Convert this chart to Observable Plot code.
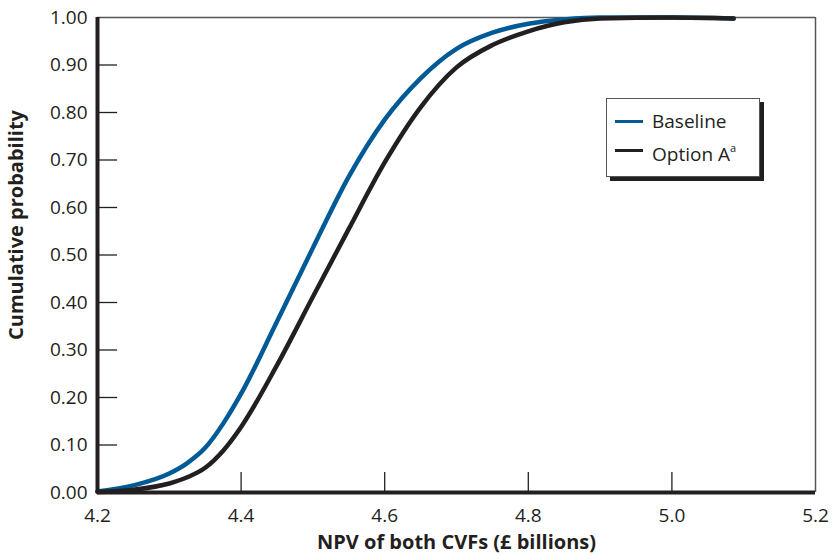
<!DOCTYPE html>
<html>
<head>
<meta charset="utf-8">
<script src="https://cdn.jsdelivr.net/npm/d3@7"></script>
<script src="https://cdn.jsdelivr.net/npm/@observablehq/plot@0.6"></script>
<style>
  body { margin: 0; background: #fff; font-family: "Open Sans", sans-serif; color: #231f20; }
  #wrap { position: relative; width: 833px; height: 560px; }
  .legend { position: absolute; left: 606px; top: 98px; width: 154px; height: 79px; box-sizing: border-box;
            border: 1.5px solid #555; background: #fff; box-shadow: 4px 4px 0 #231f20; }
  .legend .sw { position: absolute; left: 8px; width: 28px; height: 3px; }
  .legend .lab { position: absolute; left: 45px; font-size: 19px; line-height: 24px; white-space: nowrap; }
  .legend sup { font-size: 11px; position: relative; top: -2px; }
</style>
</head>
<body>
<div id="wrap"></div>
<script>
// ---- data ----
const xTicks = [4.2, 4.4, 4.6, 4.8, 5.0, 5.2];
const yTicks = [0, 0.1, 0.2, 0.3, 0.4, 0.5, 0.6, 0.7, 0.8, 0.9, 1.0];
const seriesNames = ["Baseline", "Option A"];
const seriesColors = ["#005a96", "#231f20"];

const baselineX = [4.20, 4.25, 4.30, 4.325, 4.35, 4.375, 4.40, 4.45, 4.50, 4.55, 4.60, 4.65, 4.70, 4.75, 4.80, 4.85, 4.90, 5.00, 5.086];
const baselineY = [0.002, 0.015, 0.040, 0.062, 0.094, 0.145, 0.208, 0.360, 0.515, 0.665, 0.785, 0.872, 0.934, 0.968, 0.987, 0.996, 1.000, 1.000, 0.998];

const optionX = [4.20, 4.25, 4.30, 4.325, 4.35, 4.375, 4.40, 4.45, 4.50, 4.55, 4.60, 4.65, 4.70, 4.75, 4.80, 4.85, 4.90, 5.00, 5.086];
const optionY = [0.001, 0.006, 0.019, 0.032, 0.052, 0.088, 0.138, 0.268, 0.412, 0.555, 0.695, 0.811, 0.895, 0.942, 0.971, 0.990, 0.998, 1.000, 0.998];

const baseline = baselineX.map((x, i) => ({x, y: baselineY[i]}));
const optionA = optionX.map((x, i) => ({x, y: optionY[i]}));

const ink = "#231f20";

const chart = Plot.plot({
  width: 833,
  height: 560,
  marginLeft: 97,
  marginRight: 18,
  marginTop: 17,
  marginBottom: 68,
  style: { fontFamily: "'Open Sans', sans-serif", fontSize: "19px", color: ink, background: "#fff", overflow: "visible" },
  x: { domain: [4.2, 5.2] },
  y: { domain: [0, 1] },
  marks: [
    // thin top/right frame
    Plot.ruleY([1], { stroke: "#555", strokeWidth: 1.5 }),
    Plot.ruleX([5.2], { stroke: "#555", strokeWidth: 1.5 }),
    // inner ticks
    Plot.ruleY(yTicks.filter(d => d > 0 && d < 1), { x1: 4.2, x2: 4.228, stroke: ink, strokeWidth: 1.3 }),
    Plot.ruleX(xTicks.slice(1, -1), { y1: 0, y2: 0.042, stroke: ink, strokeWidth: 1.3 }),
    // curves
    Plot.line(baseline, { x: "x", y: "y", stroke: seriesColors[0], strokeWidth: 4.5, curve: "monotone-x" }),
    Plot.line(optionA, { x: "x", y: "y", stroke: seriesColors[1], strokeWidth: 4.5, curve: "monotone-x" }),
    // thick axis lines
    Plot.ruleX([4.2], { stroke: ink, strokeWidth: 4 }),
    Plot.ruleY([0], { stroke: ink, strokeWidth: 4 }),
    // tick labels
    Plot.axisX(xTicks, { tickSize: 0, tickPadding: 16, tickFormat: d3.format(".1f"), fontSize: 19, fill: ink, label: null }),
    Plot.axisY(yTicks, { tickSize: 0, tickPadding: 10, tickFormat: d3.format(".2f"), fontSize: 19, fill: ink, label: null }),
    // axis titles
    Plot.text(["NPV of both CVFs (£ billions)"], { frameAnchor: "bottom", dy: 56, fontWeight: "bold", fontSize: 20, fill: ink }),
    Plot.text(["Cumulative probability"], { frameAnchor: "left", textAnchor: "middle", rotate: -90, dx: -81, dy: -30, fontWeight: "bold", fontSize: 20, fill: ink })
  ]
});

const wrap = document.getElementById("wrap");
wrap.appendChild(chart);

// legend
const legend = document.createElement("div");
legend.className = "legend";
legend.innerHTML = `
  <div class="sw" style="top:21px;background:${seriesColors[0]}"></div>
  <div class="lab" style="top:10px">${seriesNames[0]}</div>
  <div class="sw" style="top:50px;background:${seriesColors[1]}"></div>
  <div class="lab" style="top:39px">${seriesNames[1]}<sup>a</sup></div>`;
wrap.appendChild(legend);
</script>
</body>
</html>
